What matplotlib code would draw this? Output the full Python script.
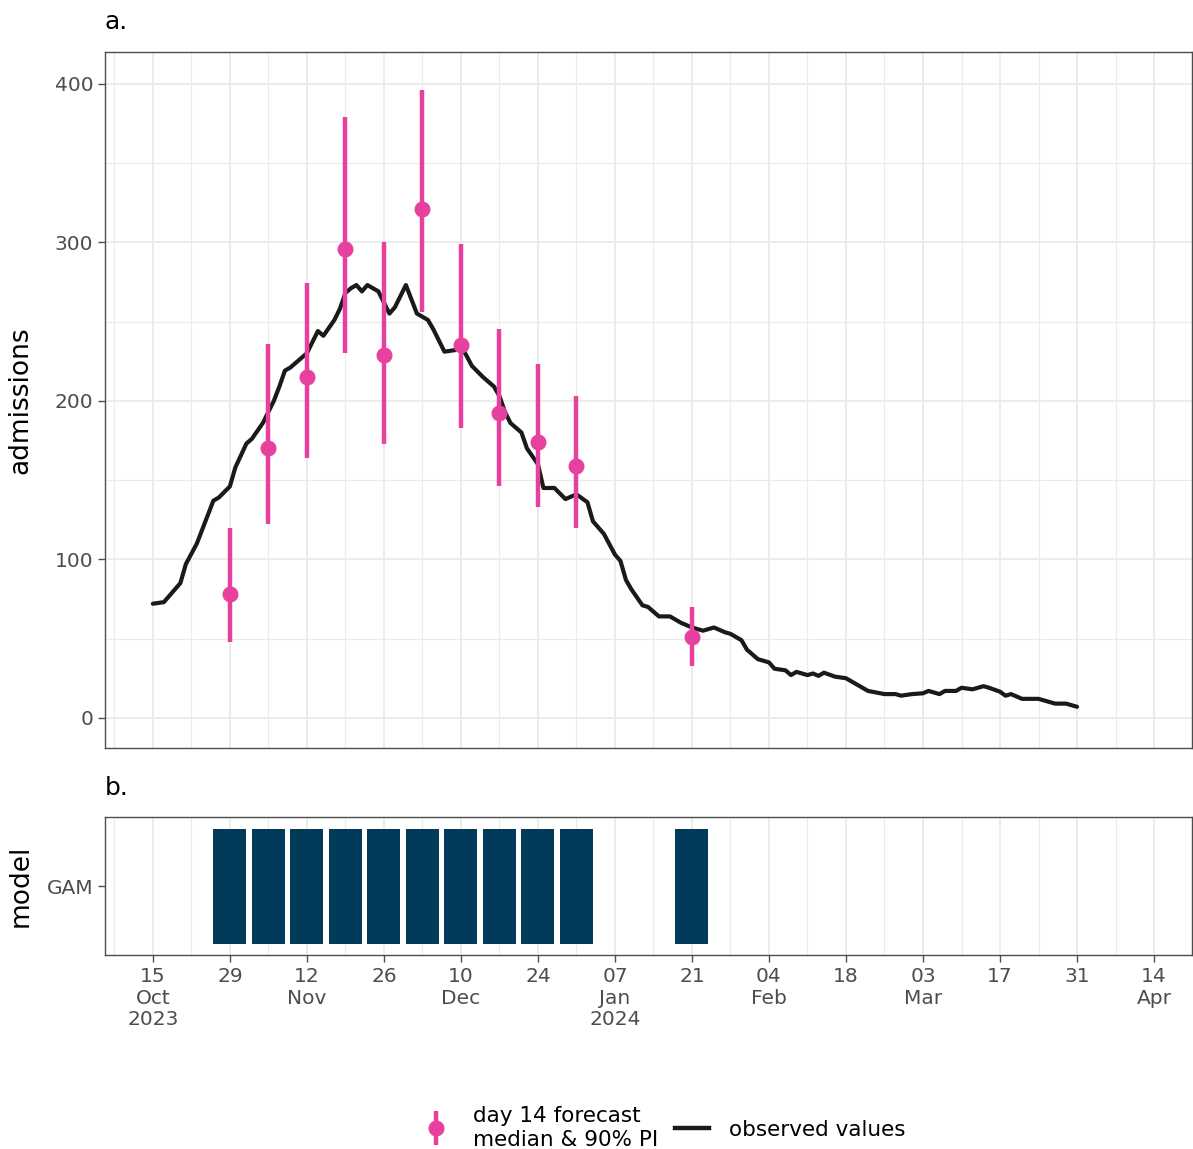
import matplotlib
matplotlib.use("Agg")
import matplotlib.pyplot as plt
import matplotlib.dates as mdates
from matplotlib.lines import Line2D
from matplotlib.legend_handler import HandlerTuple
import pandas as pd
import numpy as np

# ---------------- data ----------------
forecast_dates = ["2023-10-29", "2023-11-05", "2023-11-12", "2023-11-19", "2023-11-26",
                  "2023-12-03", "2023-12-10", "2023-12-17", "2023-12-24", "2023-12-31",
                  "2024-01-21"]
forecast_median = [78, 170, 215, 296, 229, 321, 235, 192, 174, 159, 51]
forecast_lower = [48, 122, 164, 230, 173, 256, 183, 146, 133, 120, 33]
forecast_upper = [120, 236, 274, 379, 300, 396, 299, 245, 223, 203, 70]

obs_start = "2023-10-15"
obs_day = [0, 2, 5, 6, 8, 11, 12, 14, 15, 17, 18, 20, 22, 23, 24, 25, 27, 28, 30, 31,
           33, 34, 35, 36, 37, 38, 39, 41, 42, 43, 44, 46, 47, 48, 50, 51, 53, 55, 56, 58,
           60, 62, 63, 64, 65, 67, 68, 70, 71, 73, 75, 77, 79, 80, 82, 84, 85, 86, 87, 89,
           90, 92, 94, 96, 98, 100, 102, 104, 105, 107, 108, 109, 110, 112, 113, 115, 116, 117, 119, 120,
           121, 122, 124, 126, 128, 130, 133, 135, 136, 138, 140, 141, 143, 144, 146, 147, 149, 151, 152, 154,
           155, 156, 158, 161, 164, 166, 168]
obs_value = [72, 73, 85, 97, 110, 137, 139, 146, 158, 173, 176, 186, 200, 209, 219, 221, 227, 230, 244, 241,
             251, 258, 268, 271, 273, 269, 273, 269, 262, 255, 259, 273, 264, 255, 251, 245, 231, 232, 235, 222,
             215, 209, 203, 193, 186, 180, 170, 160, 145, 145, 138, 141, 136, 124, 116, 103, 99, 87, 81, 71,
             70, 64, 64, 60, 57, 55, 57, 54, 53, 49, 43, 40, 37, 35, 31, 30, 27, 29, 27, 28,
             26.5, 28.5, 26, 25, 21, 17, 15, 15, 14, 15, 15.5, 17, 15, 17, 17, 19, 18, 20, 19, 16.5,
             14, 15, 12, 12, 9, 9, 7]

model_names = ["GAM"]
tick_dates = ["2023-10-15", "2023-10-29", "2023-11-12", "2023-11-26", "2023-12-10", "2023-12-24",
              "2024-01-07", "2024-01-21", "2024-02-04", "2024-02-18", "2024-03-03", "2024-03-17",
              "2024-03-31", "2024-04-14"]
tick_labels = ["15\nOct\n2023", "29", "12\nNov", "26", "10\nDec", "24", "07\nJan\n2024", "21",
               "04\nFeb", "18", "03\nMar", "17", "31", "14\nApr"]

# ---------------- style ----------------
PINK = "#E8409E"
NAVY = "#023B59"
GRID = "#EBEBEB"
FRAME = "#4D4D4D"
TICKC = "#4D4D4D"
plt.rcParams['font.family'] = ['DejaVu Sans']

fdates = mdates.date2num(pd.to_datetime(forecast_dates))
odates = mdates.date2num(pd.to_datetime(obs_start) + pd.to_timedelta(obs_day, unit="D"))
tdates = mdates.date2num(pd.to_datetime(tick_dates))
minor_dates = mdates.date2num(pd.date_range("2023-10-08", "2024-04-21", freq="7D"))

fig = plt.figure(figsize=(11.93, 11.49), dpi=100)
W, H = 1193, 1149
ax1 = fig.add_axes([105 / W, 1 - 748 / H, 1087 / W, 696 / H])
ax2 = fig.add_axes([105 / W, 1 - 955 / H, 1087 / W, 138 / H], sharex=ax1)

xmin = mdates.date2num(pd.Timestamp("2023-10-15")) - 8.7
xmax = mdates.date2num(pd.Timestamp("2023-10-15")) + 188.9

for ax in (ax1, ax2):
    ax.set_xticks(tdates)
    ax.set_xticks(minor_dates, minor=True)
    ax.grid(True, which="major", axis="x", color=GRID, lw=1.3, zorder=0)
    ax.grid(True, which="minor", axis="x", color=GRID, lw=0.8, zorder=0)
    for s in ax.spines.values():
        s.set_color(FRAME)
        s.set_linewidth(1.0)
    ax.set_axisbelow(True)
    ax.tick_params(which="minor", length=0)
    ax.tick_params(which="major", color=FRAME, width=1.0, length=5, labelsize=14.5,
                   labelcolor=TICKC)

# ---- top panel ----
ax1.set_xlim(xmin, xmax)
ax1.set_ylim(-19, 420)
ax1.set_yticks([0, 100, 200, 300, 400])
ax1.set_yticks([50, 150, 250, 350], minor=True)
ax1.grid(True, which="major", axis="y", color=GRID, lw=1.3, zorder=0)
ax1.grid(True, which="minor", axis="y", color=GRID, lw=0.8, zorder=0)
ax1.tick_params(axis="x", which="both", length=0, labelbottom=False)

ax1.plot(odates, obs_value, color="#1A1A1A", lw=3.0, zorder=3,
         solid_capstyle="round", solid_joinstyle="round")
med = np.array(forecast_median)
lo = np.array(forecast_lower)
hi = np.array(forecast_upper)
ax1.vlines(fdates, lo, hi, color=PINK, lw=3.2, zorder=4)
ax1.plot(fdates, med, "o", color=PINK, ms=10.5, zorder=5)
ax1.set_ylabel("admissions", fontsize=19)
ax1.yaxis.set_label_coords(-0.066, 0.5)

# ---- bottom panel ----
ax2.set_ylim(0.4, 1.6)
ax2.bar(fdates, 1.0, width=6.0, bottom=0.5, color=NAVY, zorder=3)
ax2.set_yticks([1.0])
ax2.set_yticklabels(model_names)
ax2.set_xticklabels(tick_labels)
ax2.set_ylabel("model", fontsize=19)
ax2.yaxis.set_label_coords(-0.066, 0.5)
ax2.tick_params(axis="x", pad=4)
for lab in ax2.get_xticklabels():
    lab.set_linespacing(1.15)

fig.text(105 / W, 1 - 22 / H, "a.", fontsize=18, va="center", ha="left")
fig.text(105 / W, 1 - 788 / H, "b.", fontsize=18, va="center", ha="left")

# ---- legend ----
h_bar = Line2D([], [], marker="|", markersize=25, mew=3.2, color=PINK, ls="none")
h_pt = Line2D([], [], marker="o", markersize=10.5, color=PINK, ls="none")
h_line = Line2D([], [], color="#1A1A1A", lw=3.2)
fig.legend([(h_bar, h_pt), h_line], ["day 14 forecast\nmedian & 90% PI", "observed values"],
           handler_map={tuple: HandlerTuple(ndivide=1, pad=0)},
           loc="center", bbox_to_anchor=(662 / W, 1 - 1128 / H), ncol=2, frameon=False,
           fontsize=15.5, handlelength=1.6, columnspacing=0.8, handletextpad=0.9)

fig.savefig("out.png", dpi=100)
